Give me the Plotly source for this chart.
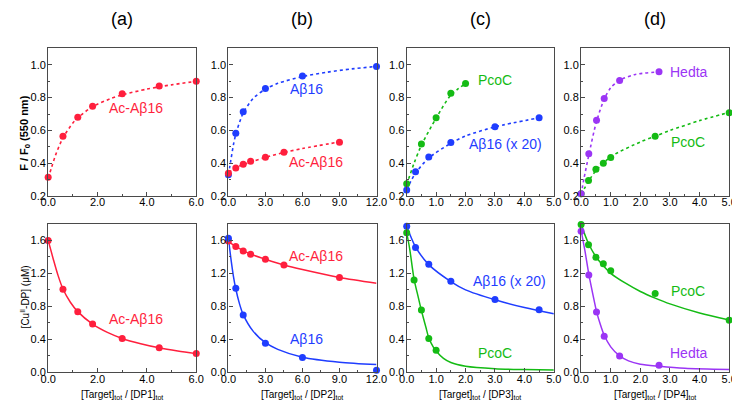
import plotly.graph_objects as go

RED = "#ff1f3d"
BLUE = "#1f3dff"
GREEN = "#14bb14"
PURPLE = "#9b35f5"

# ---------------- top row: F / F0 ----------------
# (a)
a_top_x = [0, 0.6, 1.2, 1.8, 3.0, 4.5, 6.0]
a_top_ac = [0.315, 0.565, 0.68, 0.748, 0.823, 0.871, 0.90]
a_top_fit_x = [0, 0.15, 0.3, 0.6, 1.0, 1.2, 1.8, 2.5, 3.0, 4.0, 4.5, 5.0, 6.0]
a_top_fit_ac = [0.31, 0.38, 0.45, 0.555, 0.645, 0.677, 0.745, 0.792, 0.817, 0.852, 0.866, 0.878, 0.90]

# (b)
b_top_x_ab = [0, 0.6, 1.2, 3.0, 6.0, 12.0]
b_top_ab = [0.33, 0.583, 0.714, 0.855, 0.932, 0.99]
b_top_x_ac = [0, 0.6, 1.2, 1.8, 3.0, 4.5, 9.0]
b_top_ac = [0.34, 0.372, 0.394, 0.413, 0.437, 0.467, 0.528]
b_top_fit_x_ab = [0, 0.2, 0.4, 0.6, 1.0, 1.2, 2.0, 3.0, 4.0, 6.0, 8.0, 10.0, 12.0]
b_top_fit_ab = [0.33, 0.42, 0.51, 0.578, 0.67, 0.707, 0.795, 0.852, 0.887, 0.928, 0.955, 0.975, 0.99]
b_top_fit_x_ac = [0, 1.0, 2.0, 3.0, 4.5, 6.0, 9.0]
b_top_fit_ac = [0.345, 0.386, 0.412, 0.436, 0.466, 0.49, 0.53]

# (c)
c_top_x_pc = [0, 0.5, 1.0, 1.5, 2.0]
c_top_pc = [0.275, 0.518, 0.677, 0.826, 0.886]
c_top_x_ab = [0, 0.3, 0.75, 1.5, 3.0, 4.5]
c_top_ab = [0.237, 0.348, 0.438, 0.527, 0.622, 0.677]
c_top_fit_x_pc = [0, 0.25, 0.5, 1.0, 1.5, 2.0]
c_top_fit_pc = [0.27, 0.40, 0.51, 0.675, 0.815, 0.886]
c_top_fit_x_ab = [0, 0.3, 0.75, 1.5, 2.0, 3.0, 4.5]
c_top_fit_ab = [0.24, 0.34, 0.432, 0.522, 0.566, 0.622, 0.677]

# (d)
d_top_x_he = [0, 0.26, 0.52, 0.78, 1.3, 2.63]
d_top_he = [0.215, 0.458, 0.662, 0.795, 0.905, 0.957]
d_top_x_pc = [0, 0.25, 0.5, 0.75, 1.0, 2.5, 5.0]
d_top_pc = [0.215, 0.295, 0.364, 0.40, 0.436, 0.565, 0.708]
d_top_fit_x_he = [0, 0.1, 0.26, 0.52, 0.78, 1.0, 1.3, 1.8, 2.63]
d_top_fit_he = [0.21, 0.31, 0.45, 0.655, 0.79, 0.86, 0.905, 0.94, 0.957]
d_top_fit_x_pc = [0, 0.25, 0.5, 1.0, 2.0, 2.5, 3.0, 4.0, 5.0]
d_top_fit_pc = [0.21, 0.29, 0.355, 0.44, 0.53, 0.565, 0.60, 0.66, 0.71]

# ---------------- bottom row: [CuII-DP] ----------------
# (a)
a_bot_x = [0, 0.6, 1.2, 1.8, 3.0, 4.5, 6.0]
a_bot_ac = [1.596, 1.007, 0.736, 0.585, 0.41, 0.298, 0.23]
a_bot_fit_x = [0, 0.2, 0.4, 0.6, 0.9, 1.2, 1.8, 2.4, 3.0, 3.75, 4.5, 5.25, 6.0]
a_bot_fit_ac = [1.60, 1.38, 1.175, 1.01, 0.85, 0.736, 0.585, 0.485, 0.412, 0.348, 0.298, 0.26, 0.228]

# (b)
b_bot_x_ac = [0, 0.6, 1.2, 1.8, 3.0, 4.5, 9.0]
b_bot_ac = [1.59, 1.525, 1.47, 1.43, 1.37, 1.30, 1.15]
b_bot_x_ab = [0, 0.6, 1.2, 3.0, 6.0, 12.0]
b_bot_ab = [1.625, 1.02, 0.695, 0.355, 0.18, 0.028]
b_bot_fit_x_ac = [0, 0.6, 1.2, 1.8, 3.0, 4.5, 6.0, 9.0, 12.0]
b_bot_fit_ac = [1.585, 1.525, 1.475, 1.432, 1.37, 1.30, 1.245, 1.15, 1.08]
b_bot_fit_x_ab = [0, 0.2, 0.4, 0.6, 0.9, 1.2, 2.0, 3.0, 4.0, 6.0, 9.0, 12.0]
b_bot_fit_ab = [1.62, 1.38, 1.17, 1.01, 0.83, 0.70, 0.50, 0.36, 0.28, 0.185, 0.125, 0.095]

# (c)
c_bot_x_ab = [0, 0.3, 0.75, 1.5, 3.0, 4.5]
c_bot_ab = [1.77, 1.513, 1.31, 1.105, 0.884, 0.76]
c_bot_x_pc = [0, 0.25, 0.5, 0.75, 1.0]
c_bot_pc = [1.69, 1.12, 0.755, 0.41, 0.27]
c_bot_fit_x_ab = [0, 0.3, 0.75, 1.5, 2.0, 3.0, 4.0, 5.0]
c_bot_fit_ab = [1.77, 1.52, 1.305, 1.10, 1.00, 0.88, 0.785, 0.71]
c_bot_fit_x_pc = [0, 0.1, 0.25, 0.4, 0.5, 0.65, 0.75, 0.9, 1.0, 1.25, 1.5, 2.0, 3.0, 4.0, 5.0]
c_bot_fit_pc = [1.69, 1.50, 1.13, 0.90, 0.75, 0.55, 0.42, 0.31, 0.26, 0.17, 0.12, 0.075, 0.045, 0.035, 0.03]

# (d)
d_bot_x_pc = [0, 0.25, 0.5, 0.75, 1.0, 2.5, 5.0]
d_bot_pc = [1.79, 1.544, 1.393, 1.317, 1.23, 0.955, 0.633]
d_bot_x_he = [0, 0.26, 0.52, 0.78, 1.3, 2.63]
d_bot_he = [1.71, 1.18, 0.732, 0.438, 0.20, 0.087]
d_bot_fit_x_pc = [0, 0.25, 0.5, 0.75, 1.0, 1.5, 2.0, 2.5, 3.0, 4.0, 5.0]
d_bot_fit_pc = [1.79, 1.56, 1.40, 1.29, 1.20, 1.08, 0.98, 0.90, 0.83, 0.72, 0.635]
d_bot_fit_x_he = [0, 0.13, 0.26, 0.4, 0.52, 0.65, 0.78, 1.0, 1.3, 1.6, 2.0, 2.63, 3.5, 5.0]
d_bot_fit_he = [1.72, 1.47, 1.19, 0.94, 0.74, 0.58, 0.45, 0.31, 0.20, 0.14, 0.10, 0.075, 0.05, 0.035]

panel_titles = ["(a)", "(b)", "(c)", "(d)"]
x_titles = ["[Target]<sub>tot</sub> / [DP1]<sub>tot</sub>",
            "[Target]<sub>tot</sub> / [DP2]<sub>tot</sub>",
            "[Target]<sub>tot</sub> / [DP3]<sub>tot</sub>",
            "[Target]<sub>tot</sub> / [DP4]<sub>tot</sub>"]
y_title_top = "F / F<sub>0</sub> (550 nm)"
y_title_bot = "[Cu<sup>II</sup>-DP] (μM)"

x_ranges = [[0, 6], [0, 12], [0, 5], [0, 5]]
x_dticks = [2, 3, 1, 1]

W, H = 740, 401
x_px = [(33, 185), (218, 370), (401, 552), (580, 732)]
top_px = (41, 191)
bot_px = (219, 370)

fig = go.Figure()

def add_fit(x, y, color, ax, dash):
    fig.add_trace(go.Scatter(x=x, y=y, mode="lines", line=dict(color=color, width=1.6 if dash else 1.5,
                             dash="dot" if dash else "solid", shape="spline", smoothing=0.8),
                             xaxis="x%d" % ax, yaxis="y%d" % ax, showlegend=False, hoverinfo="skip"))

def add_pts(x, y, color, ax):
    fig.add_trace(go.Scatter(x=x, y=y, mode="markers", marker=dict(color=color, size=7),
                             xaxis="x%d" % ax, yaxis="y%d" % ax, showlegend=False, cliponaxis=False))

# top row
add_fit(a_top_fit_x, a_top_fit_ac, RED, 1, True); add_pts(a_top_x, a_top_ac, RED, 1)
add_fit(b_top_fit_x_ab, b_top_fit_ab, BLUE, 2, True); add_fit(b_top_fit_x_ac, b_top_fit_ac, RED, 2, True)
add_pts(b_top_x_ab, b_top_ab, BLUE, 2); add_pts(b_top_x_ac, b_top_ac, RED, 2)
add_fit(c_top_fit_x_pc, c_top_fit_pc, GREEN, 3, True); add_fit(c_top_fit_x_ab, c_top_fit_ab, BLUE, 3, True)
add_pts(c_top_x_pc, c_top_pc, GREEN, 3); add_pts(c_top_x_ab, c_top_ab, BLUE, 3)
add_fit(d_top_fit_x_he, d_top_fit_he, PURPLE, 4, True); add_fit(d_top_fit_x_pc, d_top_fit_pc, GREEN, 4, True)
add_pts(d_top_x_pc, d_top_pc, GREEN, 4); add_pts(d_top_x_he, d_top_he, PURPLE, 4)
# bottom row
add_fit(a_bot_fit_x, a_bot_fit_ac, RED, 5, False); add_pts(a_bot_x, a_bot_ac, RED, 5)
add_fit(b_bot_fit_x_ac, b_bot_fit_ac, RED, 6, False); add_fit(b_bot_fit_x_ab, b_bot_fit_ab, BLUE, 6, False)
add_pts(b_bot_x_ac, b_bot_ac, RED, 6); add_pts(b_bot_x_ab, b_bot_ab, BLUE, 6)
add_fit(c_bot_fit_x_ab, c_bot_fit_ab, BLUE, 7, False); add_fit(c_bot_fit_x_pc, c_bot_fit_pc, GREEN, 7, False)
add_pts(c_bot_x_ab, c_bot_ab, BLUE, 7); add_pts(c_bot_x_pc, c_bot_pc, GREEN, 7)
add_fit(d_bot_fit_x_pc, d_bot_fit_pc, GREEN, 8, False); add_fit(d_bot_fit_x_he, d_bot_fit_he, PURPLE, 8, False)
add_pts(d_bot_x_pc, d_bot_pc, GREEN, 8); add_pts(d_bot_x_he, d_bot_he, PURPLE, 8)

FONT = "Liberation Sans, Arial, sans-serif"
AXC = "#4a4a4a"
layout = dict(width=W, height=H, margin=dict(l=0, r=0, t=0, b=0),
              paper_bgcolor="white", plot_bgcolor="white",
              font=dict(family=FONT, color="black", size=11))

def xdom(i):
    return [x_px[i][0] / W, x_px[i][1] / W]

def ydom(p):
    return [(H - p[1]) / H, (H - p[0]) / H]

for i in range(4):
    for row, (py, yr, ydt) in enumerate([(top_px, [0.2, 1.1], 0.2), (bot_px, [0, 1.8], 0.4)]):
        ax = i + 1 + 4 * row
        layout["xaxis%d" % ax] = dict(domain=xdom(i), range=x_ranges[i], anchor="y%d" % ax,
                                      showline=True, mirror=True, linecolor=AXC, linewidth=1.2,
                                      ticks="inside", ticklen=4, tickcolor=AXC, dtick=x_dticks[i], tick0=0,
                                      tickformat=".1f", showgrid=False, zeroline=False,
                                      minor=dict(ticks="inside", ticklen=2, dtick=x_dticks[i] / 2, tickcolor=AXC),
                                      tickfont=dict(size=11), ticklabelstandoff=-4)
        layout["yaxis%d" % ax] = dict(domain=ydom(py), range=yr, anchor="x%d" % ax,
                                      showline=True, mirror=True, linecolor=AXC, linewidth=1.2,
                                      ticks="inside", ticklen=4, tickcolor=AXC, dtick=ydt, tick0=0,
                                      tickformat=".1f", showgrid=False, zeroline=False,
                                      minor=dict(ticks="inside", ticklen=2, dtick=ydt / 2, tickcolor=AXC),
                                      tickfont=dict(size=11), ticklabelstandoff=-1)

fig.update_layout(**layout)

ann = []
for i in range(4):
    cx = (x_px[i][0] + x_px[i][1]) / 2 / W
    ann.append(dict(text=panel_titles[i], x=cx, y=(H - 11) / H, xref="paper", yref="paper",
                    showarrow=False, font=dict(size=18, family=FONT), xanchor="center", yanchor="middle"))
    ann.append(dict(text=x_titles[i], x=cx, y=(H - 393) / H, xref="paper", yref="paper",
                    showarrow=False, font=dict(size=10, family=FONT), xanchor="center", yanchor="middle"))
ann.append(dict(text="<b>" + y_title_top + "</b>", x=9 / W, y=(H - 127) / H, xref="paper", yref="paper",
                textangle=-90, showarrow=False, font=dict(size=11, family=FONT), xanchor="center", yanchor="middle"))
ann.append(dict(text=y_title_bot, x=9 / W, y=(H - 293) / H, xref="paper", yref="paper",
                textangle=-90, showarrow=False, font=dict(size=10, family=FONT), xanchor="center", yanchor="middle"))

labels = [
    ("Ac-Aβ16", 3.55, 0.735, RED, 1),
    ("Aβ16", 6.3, 0.855, BLUE, 2),
    ("Ac-Aβ16", 7.1, 0.41, RED, 2),
    ("PcoC", 3.0, 0.91, GREEN, 3),
    ("Aβ16 (x 20)", 3.37, 0.52, BLUE, 3),
    ("Hedta", 3.65, 0.956, PURPLE, 4),
    ("PcoC", 3.6, 0.53, GREEN, 4),
    ("Ac-Aβ16", 3.55, 0.645, RED, 5),
    ("Ac-Aβ16", 7.1, 1.405, RED, 6),
    ("Aβ16", 6.3, 0.405, BLUE, 6),
    ("Aβ16 (x 20)", 3.5, 1.107, BLUE, 7),
    ("PcoC", 3.0, 0.24, GREEN, 7),
    ("PcoC", 3.6, 0.98, GREEN, 8),
    ("Hedta", 3.64, 0.24, PURPLE, 8),
]
for t, x, y, c, ax in labels:
    ann.append(dict(text=t, x=x, y=y, xref="x%d" % ax, yref="y%d" % ax, showarrow=False,
                    font=dict(size=14, color=c, family=FONT), xanchor="center", yanchor="middle"))

fig.update_layout(annotations=ann)
fig.write_html("out.html")
